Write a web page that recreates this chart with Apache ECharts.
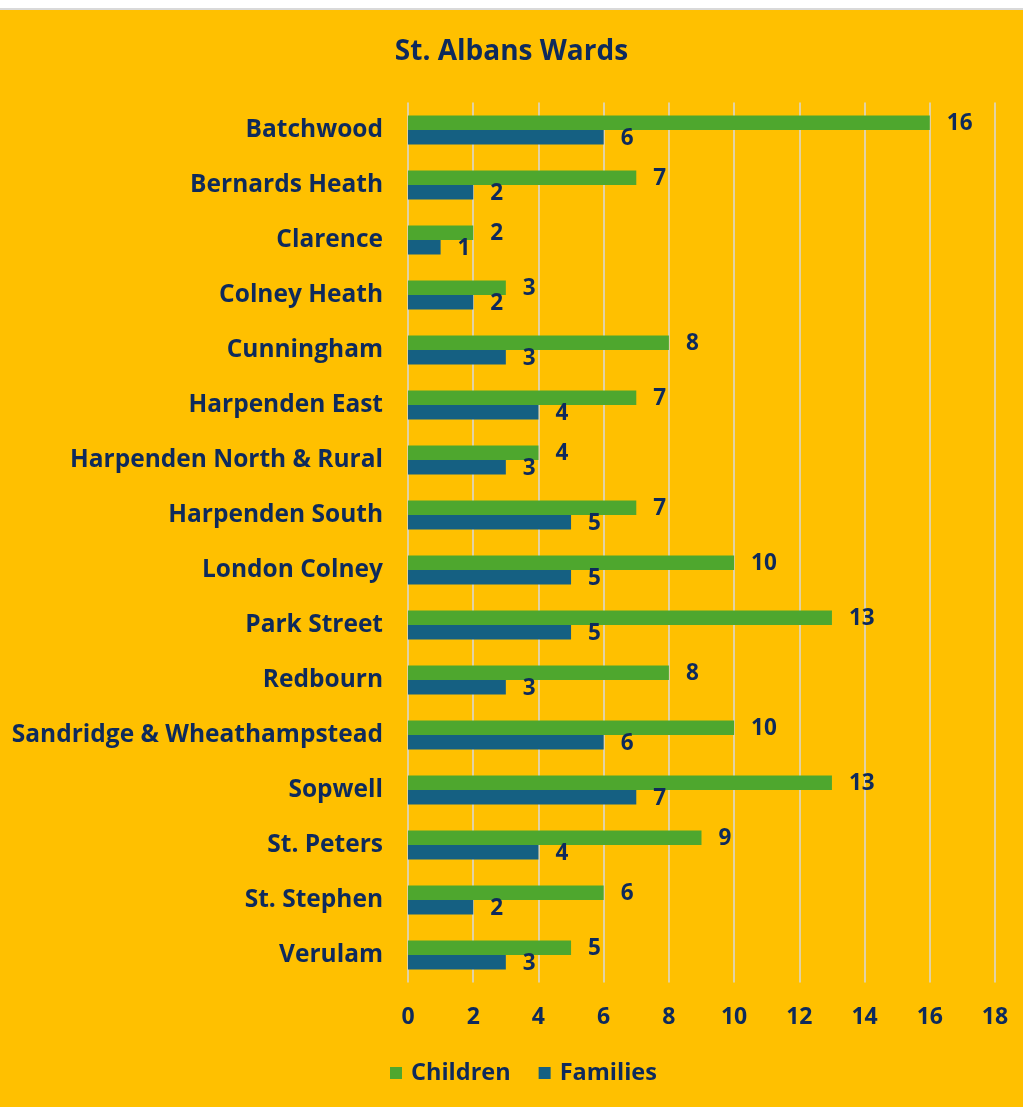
<!DOCTYPE html>
<html><head><meta charset="utf-8">
<script src="https://cdn.jsdelivr.net/npm/echarts@6/dist/echarts.min.js"></script>
<style>
html,body{margin:0;padding:0;background:#fff;}
#wrap{position:absolute;left:0;top:0;width:1023px;height:1107px;}
#line{position:absolute;left:0;top:8px;width:1023px;height:2px;background:#d9d9d9;}
#c{position:absolute;left:0;top:10px;width:1023px;height:1097px;}
</style></head>
<body><div id="wrap"><div id="line"></div><div id="c"></div></div>
<script>
const categories = ["Batchwood","Bernards Heath","Clarence","Colney Heath","Cunningham","Harpenden East","Harpenden North & Rural","Harpenden South","London Colney","Park Street","Redbourn","Sandridge & Wheathampstead","Sopwell","St. Peters","St. Stephen","Verulam"];
const children = [16,7,2,3,8,7,4,7,10,13,8,10,13,9,6,5];
const families = [6,2,1,2,3,4,3,5,5,5,3,6,7,4,2,3];
const xTicks = {min:0, max:18, interval:2};

const navy = '#0E2A5C';
const font = '"Open Sans", "Noto Sans", sans-serif';
const chart = echarts.init(document.getElementById('c'));
chart.setOption({
  backgroundColor:'#FFC000',
  textStyle:{fontFamily:font},
  title:{text:'St. Albans Wards', left:'center', top:23,
    textStyle:{color:navy, fontSize:28, fontWeight:'bold', fontFamily:font}},
  legend:{bottom:17, left:385, itemWidth:12, itemHeight:12, itemGap:28, icon:'rect',
    textStyle:{color:navy, fontSize:23.5, fontWeight:'bold', fontFamily:font, padding:[0,0,0,4]},
    data:['Children','Families']},
  grid:{left:408, right:28, top:92.5, bottom:124.5, containLabel:false},
  xAxis:{type:'value', min:xTicks.min, max:xTicks.max, interval:xTicks.interval,
    axisLine:{show:false}, axisTick:{show:false},
    splitLine:{lineStyle:{color:'#D9D9D9', width:1.5}},
    axisLabel:{color:navy, fontSize:23, fontWeight:'bold', margin:23, fontFamily:font}},
  yAxis:{type:'category', data:categories, inverse:true,
    axisLine:{show:false}, axisTick:{show:false},
    axisLabel:{color:navy, fontSize:24.5, fontWeight:'bold', margin:25, padding:[7,0,0,0]}},
  series:[
    {name:'Children', type:'bar', data:children, barWidth:14.5, barGap:'0%',
      itemStyle:{color:'#4EA72E'},
      label:{show:true, position:'right', distance:17, color:navy, fontSize:22.5, fontWeight:'bold', offset:[0,1]}},
    {name:'Families', type:'bar', data:families, barWidth:14.5,
      itemStyle:{color:'#156082'},
      label:{show:true, position:'right', distance:17, color:navy, fontSize:22.5, fontWeight:'bold', offset:[0,1]}}
  ]
});
</script></body></html>
